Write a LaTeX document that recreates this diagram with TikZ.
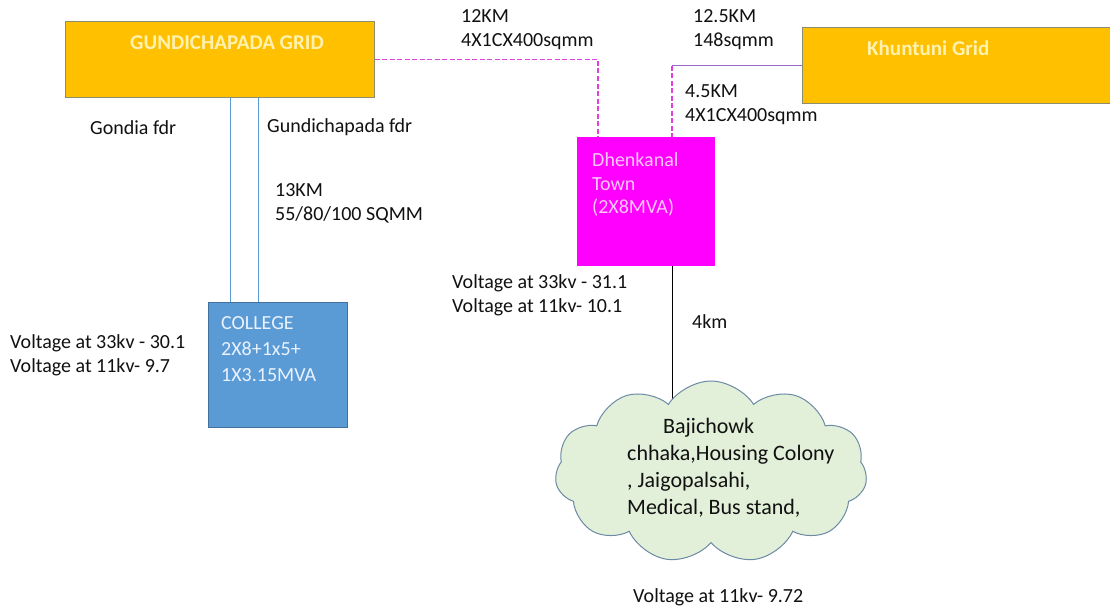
\documentclass[tikz,border=0pt]{standalone}
\usepackage{fontspec}
\setmainfont{Carlito}
\usetikzlibrary{shapes.symbols,backgrounds}
\definecolor{gold}{HTML}{FFC000}
\definecolor{goldedge}{HTML}{8C8C6E}
\definecolor{gridtext}{HTML}{FFF2B0}
\definecolor{magbox}{HTML}{FF00FF}
\definecolor{magtext}{HTML}{FFC8FF}
\definecolor{collblue}{HTML}{5B9BD5}
\definecolor{colledge}{HTML}{41719C}
\definecolor{colltext}{HTML}{EAF2FF}
\definecolor{cloudfill}{HTML}{E2EFD9}
\definecolor{cloudedge}{HTML}{6D8AA5}
\definecolor{pinkline}{HTML}{E040E0}
\definecolor{purpline}{HTML}{9966CC}
\definecolor{txt}{HTML}{111111}
\tikzset{
  gridbox/.style={draw=goldedge, fill=gold, line width=1pt, inner sep=0pt},
  boxtitle/.style={text=gridtext, anchor=west, inner sep=0pt, font=\fontsize{21}{24}\selectfont\bfseries},
  lbl/.style={text=txt, anchor=west, inner sep=0pt, align=left},
  pinkdash/.style={draw=pinkline, line width=1.5pt, dash pattern=on 5pt off 2.5pt},
  purpsolid/.style={draw=purpline, line width=1.3pt},
  bluewire/.style={draw=collblue, line width=1pt},
  blackwire/.style={draw=black, line width=1pt},
}
\begin{document}
\begin{tikzpicture}[x=1pt,y=-1pt,font=\fontsize{20}{24}\selectfont]
\useasboundingbox (0,0) rectangle (1110,610);
% boxes
\node[gridbox, minimum width=309pt, minimum height=75pt] (gund) at (219.5,59.5) {};
\node[boxtitle] (gundt) at (130,43) {GUNDICHAPADA GRID};
\node[gridbox, minimum width=312pt, minimum height=75pt] (khun) at (958,65.5) {};
\node[boxtitle] (khunt) at (867,48) {Khuntuni Grid};
\node[draw=magbox, fill=magbox, line width=1pt, minimum width=137pt, minimum height=128pt, inner sep=0pt] (dhen) at (645.5,201) {};
\node[text=magtext, anchor=west, inner sep=0pt, align=left, font=\fontsize{20}{23.5}\selectfont] (dhent) at (592,184.5) {Dhenkanal\\Town\\(2X8MVA)};
\node[draw=colledge, fill=collblue, line width=1pt, minimum width=139pt, minimum height=125pt, inner sep=0pt] (coll) at (277.5,364.5) {};
\node[text=colltext, anchor=west, inner sep=0pt, align=left, font=\fontsize{20}{26}\selectfont] (collt) at (221,349) {COLLEGE\\2X8+1x5+\\1X3.15MVA};
\node[cloud, cloud puffs=11, cloud puff arc=115, aspect=1.75, draw=cloudedge, fill=cloudfill, line width=1pt, minimum width=312pt, minimum height=182pt, inner sep=0pt] (cloudn) at (711,472) {};
\node[lbl, font=\fontsize{22}{27}\selectfont] (cloudt) at (627,467.5) {\hspace*{36pt}Bajichowk\\chhaka,Housing Colony\\, Jaigopalsahi,\\Medical, Bus stand,};
% connectors
\coordinate (gj) at ([xshift=-47.5pt]dhen.north |- gund.east);
\draw[pinkdash] (gund.east) -- (gj) -- ([xshift=-47.5pt]dhen.north);
\coordinate (kj) at ([xshift=26.5pt]dhen.north |- khun.west);
\draw[purpsolid] (khun.west) -- (kj);
\draw[pinkdash] (kj) -- ([xshift=26.5pt]dhen.north);
\draw[bluewire] ([xshift=10.5pt]gund.south) -- ([xshift=10.5pt]gund.south |- coll.north);
\draw[bluewire] ([xshift=38.5pt]gund.south) -- ([xshift=38.5pt]gund.south |- coll.north);
\begin{scope}[on background layer]
\fill[white] (0,0) rectangle (1110,610);
\draw[blackwire] ([xshift=26.5pt]dhen.south) -- ([xshift=26.5pt]dhen.south |- cloudn.center);
\end{scope}
% labels
\node[lbl] (l12) at (461,29.5) {12KM\\4X1CX400sqmm};
\node[lbl] (l125) at (693,29.5) {12.5KM\\148sqmm};
\node[lbl] (l45) at (685,105) {4.5KM\\4X1CX400sqmm};
\node[lbl] (lgon) at (90,128) {Gondia fdr};
\node[lbl] (lgun) at (267,127) {Gundichapada fdr};
\node[lbl] (l13) at (275,203.5) {13KM\\55/80/100 SQMM};
\node[lbl] (lvc) at (10,355) {Voltage at 33kv - 30.1\\Voltage at 11kv- 9.7};
\node[lbl] (lvd) at (452,295) {Voltage at 33kv - 31.1\\Voltage at 11kv- 10.1};
\node[lbl] (l4) at (692,322) {4km};
\node[lbl] (lvb) at (633,597) {Voltage at 11kv- 9.72};
\end{tikzpicture}
\end{document}
